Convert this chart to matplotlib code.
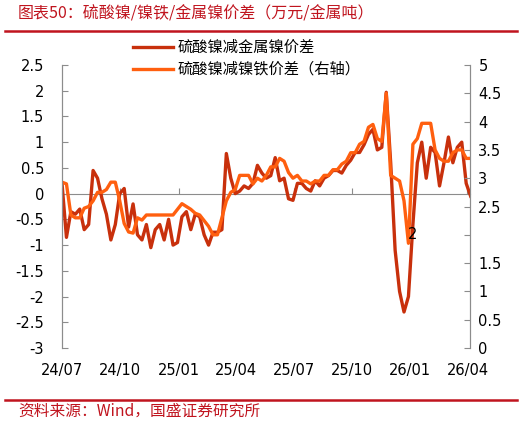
import numpy as np
import pandas as pd
import matplotlib
matplotlib.use('Agg')
import matplotlib.pyplot as plt
import matplotlib.dates as mdates
from matplotlib.lines import Line2D
from matplotlib.transforms import blended_transform_factory

plt.rcParams['font.family'] = ['DejaVu Sans', 'Noto Sans CJK SC']
plt.rcParams['axes.unicode_minus'] = False
CJK = ['Noto Sans CJK SC', 'DejaVu Sans']

# 周度数据，2024-07 起
dates = pd.date_range('2024-07-01', periods=93, freq='7D')

# 硫酸镍减金属镍价差（左轴，万元/吨）
nickel_metal = [
    0.2, -0.85, -0.35, -0.4, -0.3, -0.7, -0.6, 0.45, 0.3, -0.1,
    -0.4, -0.9, -0.6, 0.0, 0.1, -0.65, -0.2, -0.8, -0.9, -0.6,
    -1.05, -0.7, -0.6, -0.9, -0.5, -1.0, -0.95, -0.45, -0.35, -0.7,
    -0.4, -0.45, -0.8, -1.0, -0.75, -0.75, -0.7, 0.78, 0.3, 0.0,
    0.05, 0.15, 0.1, 0.2, 0.55, 0.4, 0.3, 0.35, 0.7, 0.25,
    0.3, -0.1, -0.13, 0.2, 0.2, 0.1, 0.05, 0.25, 0.15, 0.3,
    0.35, 0.45, 0.45, 0.4, 0.55, 0.65, 0.8, 0.8, 0.95, 1.15,
    1.25, 0.85, 0.9, 1.97, 0.6, -1.1, -1.9, -2.3, -2.0, -0.6,
    0.6, 1.0, 0.3, 0.9, 0.8, 0.15, 0.6, 1.1, 0.6, 0.9,
    1.0, 0.2, -0.05,
]

# 硫酸镍减镍铁价差（右轴）
nickel_iron = [
    2.93, 2.9, 2.35, 2.3, 2.3, 2.47, 2.5, 2.6, 2.75, 2.75,
    2.8, 2.93, 2.93, 2.6, 2.2, 2.05, 2.03, 2.3, 2.26, 2.35,
    2.35, 2.35, 2.35, 2.35, 2.35, 2.35, 2.45, 2.55, 2.5, 2.45,
    2.38, 2.35, 2.25, 2.15, 2.0, 2.0, 2.3, 2.6, 2.75, 2.8,
    3.05, 3.05, 3.05, 2.9, 3.0, 2.95, 3.05, 3.2, 3.2, 3.35,
    3.3, 3.1, 3.0, 3.05, 2.95, 2.95, 2.9, 2.95, 2.95, 3.05,
    3.05, 3.15, 3.15, 3.25, 3.3, 3.45, 3.45, 3.6, 3.65, 3.9,
    3.95, 3.7, 3.65, 4.5, 3.05, 3.0, 2.95, 2.6, 1.85, 3.6,
    3.7, 3.97, 3.97, 3.97, 3.5, 3.35, 3.3, 3.3, 3.45, 3.5,
    3.5, 3.35, 3.35,
]

left_ticks = np.arange(-3, 2.51, 0.5)
right_ticks = np.arange(0, 5.01, 0.5)
xticks = pd.to_datetime(['2024-07-01', '2024-10-01', '2025-01-01', '2025-04-01',
                         '2025-07-01', '2025-10-01', '2026-01-01', '2026-04-01'])

dark = '#C8300C'
orange = '#FF5F0F'
red = '#C0141E'
grey = '#8C8C8C'

fig = plt.figure(figsize=(5.26, 4.25), dpi=100)
ax = fig.add_axes([62/526, 1-348/425, 408/526, 283/425])
ax2 = ax.twinx()

l1, = ax.plot(dates, nickel_metal, color=dark, lw=2.4, label='硫酸镍减金属镍价差')
l2, = ax2.plot(dates, nickel_iron, color=orange, lw=2.4, label='硫酸镍减镍铁价差（右轴）')

ax.set_ylim(-3, 2.5)
ax2.set_ylim(0, 5)
ax.set_yticks(left_ticks)
ax.set_yticklabels(['%g' % v for v in left_ticks])
ax2.set_yticks(right_ticks)
# 原图中右轴“2”被挤到图内，单独写
ax2.set_yticklabels(['' if v == 2 else '%g' % v for v in right_ticks])
ax.set_xlim(pd.Timestamp('2024-07-01'), pd.Timestamp('2026-04-05'))
ax.set_xticks(xticks)
ax.xaxis.set_major_formatter(mdates.DateFormatter('%y/%m'))

for a in (ax, ax2):
    for s in ('top', 'bottom'):
        a.spines[s].set_visible(False)
    a.spines['left'].set_color(grey)
    a.spines['right'].set_color(grey)
ax.tick_params(axis='x', length=0, pad=11, labelsize=10.5)
ax.tick_params(axis='y', direction='in', length=4, color=grey, pad=13, labelsize=10.5)
ax2.tick_params(axis='y', direction='in', length=4, color=grey, pad=6, labelsize=10.5)

# 零轴
sec = ax.secondary_xaxis(3/5.5)
sec.set_alignment('bottom')
sec.set_xticks(xticks)
sec.spines['bottom'].set_color(grey)
sec.tick_params(axis='x', direction='in', length=4, color=grey, labelbottom=False)

tr = blended_transform_factory(ax2.transAxes, ax2.transData)
ax2.text((413-62)/408, 2, '2', transform=tr, ha='center', va='center', fontsize=10.5)

fig.legend(handles=[l1, l2], loc='upper left', bbox_to_anchor=(133/526, 1-39/425),
           frameon=False, borderpad=0, borderaxespad=0, handlelength=2.6,
           handletextpad=0.3, labelspacing=0.32, prop={'family': CJK, 'size': 11})

fig.text(18/526, 1-14/425, '图表50：硫酸镍/镍铁/金属镍价差（万元/金属吨）', color=red,
         fontsize=11.5, family=CJK, style='italic', va='center', ha='left')
fig.text(18/526, 1-411/425, '资料来源：Wind，国盛证券研究所', color=red,
         fontsize=11.3, family=CJK, style='italic', va='center', ha='left')
fig.add_artist(Line2D([5/526, 517/526], [1-31/425]*2, transform=fig.transFigure, color=red, lw=1.8))
fig.add_artist(Line2D([5/526, 517/526], [1-400/425]*2, transform=fig.transFigure, color=red, lw=1.8))

fig.savefig('out.png', dpi=100)
